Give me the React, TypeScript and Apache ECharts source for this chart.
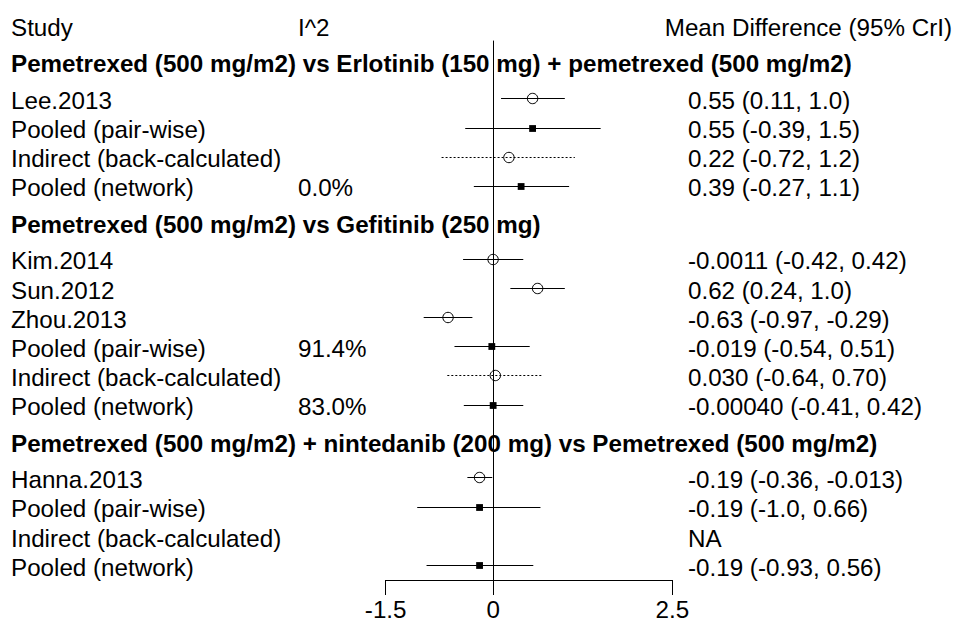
import React, { useEffect, useRef } from "react";
import * as echarts from "echarts";

// ---------- data ----------
const headerStudy = "Study";
const headerI2 = "I^2";
const headerEffect = "Mean Difference (95% CrI)";

const groupTitles = [
  "Pemetrexed (500 mg/m2) vs Erlotinib (150 mg) + pemetrexed (500 mg/m2)",
  "Pemetrexed (500 mg/m2) vs Gefitinib (250 mg)",
  "Pemetrexed (500 mg/m2) + nintedanib (200 mg) vs Pemetrexed (500 mg/m2)",
];

const rowLabels = [
  ["Lee.2013", "Pooled (pair-wise)", "Indirect (back-calculated)", "Pooled (network)"],
  ["Kim.2014", "Sun.2012", "Zhou.2013", "Pooled (pair-wise)", "Indirect (back-calculated)", "Pooled (network)"],
  ["Hanna.2013", "Pooled (pair-wise)", "Indirect (back-calculated)", "Pooled (network)"],
];

// 0 = single study, 1 = pooled, 2 = indirect
const rowKinds = [
  [0, 1, 2, 1],
  [0, 0, 0, 1, 2, 1],
  [0, 1, 2, 1],
];

const estimates = [
  [0.55, 0.55, 0.22, 0.39],
  [-0.0011, 0.62, -0.63, -0.019, 0.03, -0.0004],
  [-0.19, -0.19, null, -0.19],
];
const lowerCrI = [
  [0.11, -0.39, -0.72, -0.27],
  [-0.42, 0.24, -0.97, -0.54, -0.64, -0.41],
  [-0.36, -1.06, null, -0.93],
];
const upperCrI = [
  [1.0, 1.5, 1.14, 1.06],
  [0.42, 1.0, -0.29, 0.51, 0.7, 0.42],
  [-0.013, 0.66, null, 0.56],
];

const effectTexts = [
  ["0.55 (0.11, 1.0)", "0.55 (-0.39, 1.5)", "0.22 (-0.72, 1.2)", "0.39 (-0.27, 1.1)"],
  [
    "-0.0011 (-0.42, 0.42)",
    "0.62 (0.24, 1.0)",
    "-0.63 (-0.97, -0.29)",
    "-0.019 (-0.54, 0.51)",
    "0.030 (-0.64, 0.70)",
    "-0.00040 (-0.41, 0.42)",
  ],
  ["-0.19 (-0.36, -0.013)", "-0.19 (-1.0, 0.66)", "NA", "-0.19 (-0.93, 0.56)"],
];

const i2Texts = [
  ["", "", "", "0.0%"],
  ["", "", "", "91.4%", "", "83.0%"],
  ["", "", "", ""],
];

const xTicks = [-1.5, 0, 2.5];
const xMin = -1.5;
const xMax = 2.5;

// ---------- layout ----------
const W = 956;
const H = 621;
const FONT = '"Liberation Sans", Arial, sans-serif';
const FS = 24.2;
const ROW_PX = 29.18;
const COL_LABEL = 11;
const COL_I2 = 298;
const COL_EFFECT = 688;
const COL_HEADER_RIGHT = 952;

const snap = (v: number) => Math.round(v - 0.5) + 0.5;

export default function App() {
  const ref = useRef<HTMLDivElement>(null);

  useEffect(() => {
    if (!ref.current) return;
    const chart = echarts.init(ref.current, undefined, { renderer: "svg" });

    type TextItem = { x: number; row: number; text: string; bold: boolean; align: string };
    const texts: TextItem[] = [];
    const marks: number[][] = [];
    texts.push({ x: COL_LABEL, row: 0, text: headerStudy, bold: false, align: "left" });
    texts.push({ x: COL_I2, row: 0, text: headerI2, bold: false, align: "left" });
    texts.push({ x: COL_HEADER_RIGHT, row: 0, text: headerEffect, bold: false, align: "right" });
    let r = 0;
    groupTitles.forEach((title, g) => {
      r += 1.25;
      texts.push({ x: COL_LABEL, row: r, text: title, bold: true, align: "left" });
      r += 0.25;
      rowLabels[g].forEach((lab, i) => {
        r += 1;
        texts.push({ x: COL_LABEL, row: r, text: lab, bold: false, align: "left" });
        if (i2Texts[g][i]) texts.push({ x: COL_I2, row: r, text: i2Texts[g][i], bold: false, align: "left" });
        texts.push({ x: COL_EFFECT, row: r, text: effectTexts[g][i], bold: false, align: "left" });
        const est = estimates[g][i];
        if (est !== null) {
          marks.push([est, r, lowerCrI[g][i] as number, upperCrI[g][i] as number, rowKinds[g][i]]);
        }
      });
    });
    const axisRow = r + 0.5;
    const lineTopRow = 0.5;

    const textTop = 27.5;
    const plotTop = 26 + lineTopRow * ROW_PX;
    const plotHeight = (axisRow - lineTopRow) * ROW_PX;
    const plotLeft = 385.7;
    const plotRight = W - 672.3;

    const option: any = {
      animation: false,
      backgroundColor: "#fff",
      grid: [
        { left: plotLeft, right: plotRight, top: plotTop, height: plotHeight, containLabel: false },
        { left: 0, right: 0, top: textTop, height: axisRow * ROW_PX, containLabel: false },
      ],
      xAxis: [
        {
          type: "value",
          gridIndex: 0,
          min: xMin,
          max: xMax,
          splitLine: { show: false },
          axisLine: { show: true, onZero: false, lineStyle: { color: "#000", width: 1 } },
          axisTick: {
            show: true,
            customValues: xTicks,
            length: 15,
            inside: false,
            lineStyle: { color: "#000", width: 1 },
          },
          axisLabel: {
            show: true,
            customValues: xTicks,
            showMinLabel: true,
            showMaxLabel: true,
            color: "#000",
            fontSize: FS,
            fontFamily: FONT,
            margin: 17,
          },
        },
        { type: "value", gridIndex: 1, min: 0, max: W, show: false },
      ],
      yAxis: [
        { type: "value", gridIndex: 0, min: lineTopRow, max: axisRow, inverse: true, show: false },
        { type: "value", gridIndex: 1, min: 0, max: axisRow, inverse: true, show: false },
      ],
      series: [
        {
          type: "custom",
          xAxisIndex: 0,
          yAxisIndex: 0,
          clip: false,
          silent: true,
          data: marks,
          encode: { x: [0, 2, 3], y: 1 },
          renderItem: (params: any, api: any) => {
            const est = api.value(0);
            const row = api.value(1);
            const lo = api.value(2);
            const hi = api.value(3);
            const kind = api.value(4);
            const p0 = api.coord([lo, row]);
            const p1 = api.coord([hi, row]);
            const pc = api.coord([est, row]);
            const y = snap(pc[1]);
            const children: any[] = [
              {
                type: "line",
                shape: { x1: p0[0], y1: y, x2: p1[0], y2: y },
                style: {
                  stroke: "#000",
                  lineWidth: 1,
                  lineDash: kind === 2 ? [2, 2] : null,
                },
              },
            ];
            if (kind === 1) {
              const s = 6.8;
              children.push({
                type: "rect",
                shape: { x: pc[0] - s / 2, y: y - s / 2, width: s, height: s },
                style: { fill: "#000", stroke: null },
              });
            } else {
              children.push({
                type: "circle",
                shape: { cx: pc[0], cy: y, r: 5.2 },
                style: { fill: "none", stroke: "#000", lineWidth: 1 },
              });
            }
            return { type: "group", children };
          },
          markLine: {
            silent: true,
            symbol: "none",
            label: { show: false },
            lineStyle: { color: "#000", width: 1, type: "solid" },
            data: [{ xAxis: 0 }],
          },
        },
        {
          type: "custom",
          xAxisIndex: 1,
          yAxisIndex: 1,
          clip: false,
          silent: true,
          data: texts.map((t) => [t.x, t.row]),
          renderItem: (params: any, api: any) => {
            const t = texts[params.dataIndex];
            const p = api.coord([api.value(0), api.value(1)]);
            return {
              type: "text",
              x: p[0],
              y: p[1],
              style: {
                text: t.text,
                fill: "#000",
                font: `${t.bold ? "bold " : ""}${FS}px ${FONT}`,
                align: t.align,
                verticalAlign: "middle",
              },
            };
          },
        },
      ],
    };

    chart.setOption(option);
    return () => chart.dispose();
  }, []);

  return (
    <div
      ref={ref}
      style={{ position: "fixed", left: 0, top: 0, width: W, height: H, background: "#fff" }}
    />
  );
}
